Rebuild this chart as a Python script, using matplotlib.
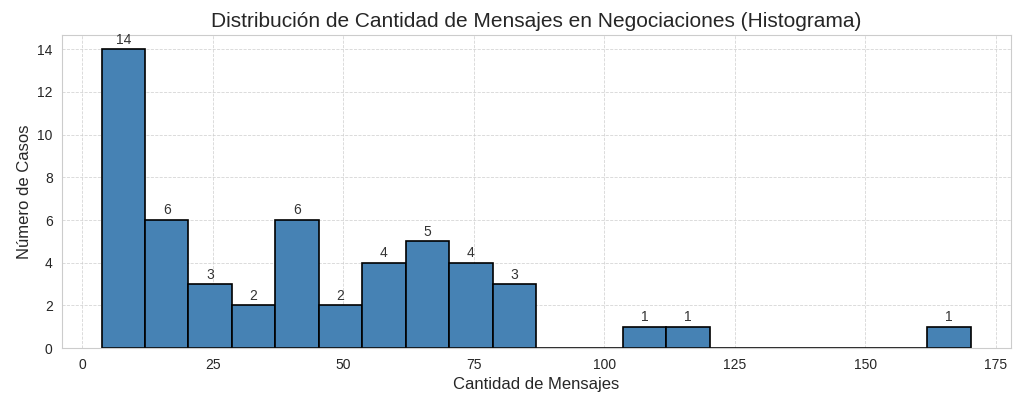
import numpy as np
import matplotlib.pyplot as plt
import seaborn as sns

sns.set_style("whitegrid")
plt.rcParams['font.family'] = 'Liberation Sans'

# histogram data
bin_start = 3.7
bin_end = 170.2
counts = [14, 6, 3, 2, 6, 2, 4, 5, 4, 3, 0, 0, 1, 1, 0, 0, 0, 0, 0, 1]

edges = np.linspace(bin_start, bin_end, len(counts) + 1)
widths = np.diff(edges)

fig, ax = plt.subplots(figsize=(10.24, 4.03), dpi=100)
ax.bar(edges[:-1], counts, width=widths, align='edge',
       color='steelblue', edgecolor='black', linewidth=1.2)

for left, w, c in zip(edges[:-1], widths, counts):
    if c > 0:
        ax.text(left + w / 2, c + 0.12, str(c), ha='center', va='bottom',
                fontsize=10, color='#333333')

ax.set_title('Distribución de Cantidad de Mensajes en Negociaciones (Histograma)', fontsize=15)
ax.set_xlabel('Cantidad de Mensajes', fontsize=12)
ax.set_ylabel('Número de Casos', fontsize=12)
ax.set_xticks([0, 25, 50, 75, 100, 125, 150, 175])
ax.set_yticks(range(0, 15, 2))
ax.tick_params(labelsize=10)
ax.set_xlim(-3.8, 177.9)
ax.set_ylim(0, 14.66)
ax.grid(True, linestyle='--', linewidth=0.6, alpha=0.8)
ax.set_axisbelow(True)

plt.subplots_adjust(left=0.061, right=0.987, top=0.913, bottom=0.136)
plt.savefig('out.png', dpi=100)
